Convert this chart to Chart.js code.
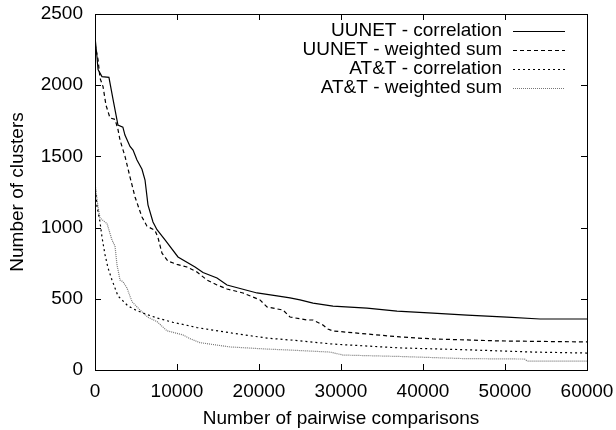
<!DOCTYPE html>
<html>
<head>
<meta charset="utf-8">
<script src="https://cdn.jsdelivr.net/npm/chart.js@4"></script>
<style>
  html, body { margin: 0; padding: 0; background: #fff; }
  #wrap { width: 616px; height: 430px; }
</style>
</head>
<body>
<div id="wrap"><canvas id="chart" width="616" height="430"></canvas></div>
<script>
// values: [comparisons, clusters]
var uunetCorr = [
  [0, 2340], [240, 2200], [370, 2110], [850, 2060], [1700, 2055], [2200, 1900],
  [2800, 1720], [3400, 1705], [3650, 1650], [4270, 1570], [4640, 1545], [5120, 1475],
  [5730, 1410], [6100, 1334], [6460, 1160], [7070, 1040], [7560, 985], [8540, 913],
  [10120, 794], [12200, 723], [13170, 685], [14880, 646], [16100, 597], [19760, 541],
  [22200, 520], [23780, 506], [25000, 492], [26590, 470], [29020, 449], [33170, 435],
  [36830, 414], [41220, 400], [45370, 386], [50240, 372], [54270, 358], [60000, 358]
];
var uunetSum = [
  [0, 2290], [370, 2180], [610, 2050], [980, 1990], [1340, 1860], [1830, 1770],
  [2440, 1760], [2800, 1690], [3050, 1615], [3660, 1500], [4270, 1355], [4880, 1215],
  [5730, 1074], [6340, 1010], [7320, 980], [7680, 930], [8170, 820], [8900, 765],
  [10000, 742], [11220, 723], [12440, 688], [13660, 632], [14880, 597], [16100, 569],
  [18050, 541], [20120, 492], [20980, 443], [22930, 421], [23780, 372], [25850, 351],
  [26590, 351], [27800, 316], [28400, 288], [29020, 274], [33170, 253], [37200, 232],
  [41220, 218], [49390, 204], [60000, 197]
];
var attCorr = [
  [0, 1300], [240, 1150], [610, 1040], [850, 934], [1220, 810], [1590, 716],
  [2070, 632], [2800, 520], [4020, 450], [5000, 420], [5850, 400], [7560, 365],
  [9510, 335], [12440, 298], [16830, 258], [20980, 224], [25000, 205], [29020, 182],
  [37200, 155], [45370, 142], [53410, 126], [60000, 119]
];
var attSum = [
  [0, 1310], [370, 1145], [610, 1067], [1220, 1039], [1460, 1030], [2070, 913],
  [2440, 870], [2680, 740], [3050, 632], [3410, 620], [3900, 576], [4510, 480],
  [5490, 421], [6460, 370], [7560, 340], [8780, 275], [10730, 246], [11590, 220],
  [12800, 192], [16460, 162], [20980, 147], [23780, 140], [28660, 126], [30250, 105],
  [37200, 95], [45000, 80], [52400, 77], [52700, 63], [60000, 63]
];
var seriesNames = ["UUNET - correlation", "UUNET - weighted sum", "AT&T - correlation", "AT&T - weighted sum"];
var xTicks = [0, 10000, 20000, 30000, 40000, 50000, 60000];
var yTicks = [0, 500, 1000, 1500, 2000, 2500];

var FONT = "'Liberation Sans', Arial, Helvetica, sans-serif";
var FSIZE = 19;

function pts(arr) {
  return arr.map(function (p) { return { x: p[0], y: p[1] }; });
}

function ds(label, data, color, dash) {
  return {
    label: label,
    data: pts(data),
    borderColor: color,
    borderWidth: 1.2,
    borderDash: dash,
    pointRadius: 0,
    tension: 0,
    fill: false
  };
}

// gnuplot style frame with inward ticks on all four sides
var framePlugin = {
  id: 'frame',
  afterDatasetsDraw: function (chart) {
    var ctx = chart.ctx, a = chart.chartArea;
    var xs = chart.scales.x, ys = chart.scales.y;
    var len = 6;
    ctx.save();
    ctx.strokeStyle = '#000';
    ctx.lineWidth = 1;
    ctx.beginPath();
    xTicks.forEach(function (v) {
      var px = Math.round(xs.getPixelForValue(v)) + 0.5;
      ctx.moveTo(px, a.bottom); ctx.lineTo(px, a.bottom - len);
      ctx.moveTo(px, a.top); ctx.lineTo(px, a.top + len);
    });
    yTicks.forEach(function (v) {
      var py = Math.round(ys.getPixelForValue(v)) + 0.5;
      ctx.moveTo(a.left, py); ctx.lineTo(a.left + len, py);
      ctx.moveTo(a.right, py); ctx.lineTo(a.right - len, py);
    });
    ctx.stroke();
    ctx.strokeRect(Math.round(a.left) + 0.5, Math.round(a.top) + 0.5,
      Math.round(a.right - a.left), Math.round(a.bottom - a.top));
    ctx.restore();
  }
};

// key in the top right corner: text right aligned, line sample after it
var keyPlugin = {
  id: 'key',
  afterDatasetsDraw: function (chart) {
    var ctx = chart.ctx;
    var textRight = 502, lineL = 513, lineR = 565, y0 = 31, step = 19;
    ctx.save();
    ctx.font = FSIZE + 'px ' + FONT;
    ctx.textAlign = 'right';
    ctx.textBaseline = 'middle';
    chart.data.datasets.forEach(function (d, i) {
      var y = y0 + i * step;
      ctx.fillStyle = '#000';
      ctx.fillText(d.label, textRight, y);
      ctx.beginPath();
      ctx.strokeStyle = d.borderColor;
      ctx.lineWidth = d.borderWidth;
      ctx.setLineDash(d.borderDash || []);
      ctx.moveTo(lineL, y + 0.5);
      ctx.lineTo(lineR, y + 0.5);
      ctx.stroke();
    });
    ctx.restore();
  }
};

var chart = new Chart(document.getElementById('chart'), {
  type: 'line',
  data: {
    datasets: [
      ds(seriesNames[0], uunetCorr, '#000', []),
      ds(seriesNames[1], uunetSum, '#000', [4, 3]),
      ds(seriesNames[2], attCorr, '#000', [2, 3]),
      ds(seriesNames[3], attSum, '#777', [1, 1])
    ]
  },
  options: {
    responsive: false,
    animation: false,
    layout: { padding: { top: 14, right: 29, left: 0, bottom: 0 } },
    plugins: {
      legend: { display: false },
      tooltip: { enabled: false }
    },
    scales: {
      x: {
        type: 'linear',
        min: 0,
        max: 60000,
        afterBuildTicks: function (s) { s.ticks = xTicks.map(function (v) { return { value: v }; }); },
        afterFit: function (s) { s.height = 60; s.paddingLeft = 0; s.paddingRight = 0; },
        grid: { display: false, drawTicks: false },
        border: { display: false },
        ticks: {
          padding: 10,
          maxRotation: 0,
          color: '#000',
          font: { family: FONT, size: FSIZE },
          callback: function (v) { return String(v); }
        },
        title: {
          display: true,
          text: 'Number of pairwise comparisons',
          color: '#000',
          font: { family: FONT, size: FSIZE },
          padding: { top: 0, bottom: 0 }
        }
      },
      y: {
        type: 'linear',
        min: 0,
        max: 2500,
        afterBuildTicks: function (s) { s.ticks = yTicks.map(function (v) { return { value: v }; }); },
        afterFit: function (s) { s.width = 95; s.paddingTop = 0; s.paddingBottom = 0; },
        grid: { display: false, drawTicks: false },
        border: { display: false },
        ticks: {
          padding: 12,
          color: '#000',
          font: { family: FONT, size: FSIZE },
          callback: function (v) { return String(v); }
        },
        title: {
          display: true,
          text: 'Number of clusters',
          color: '#000',
          font: { family: FONT, size: FSIZE },
          padding: { top: 6, bottom: 0 }
        }
      }
    }
  },
  plugins: [framePlugin, keyPlugin]
});
</script>
</body>
</html>
